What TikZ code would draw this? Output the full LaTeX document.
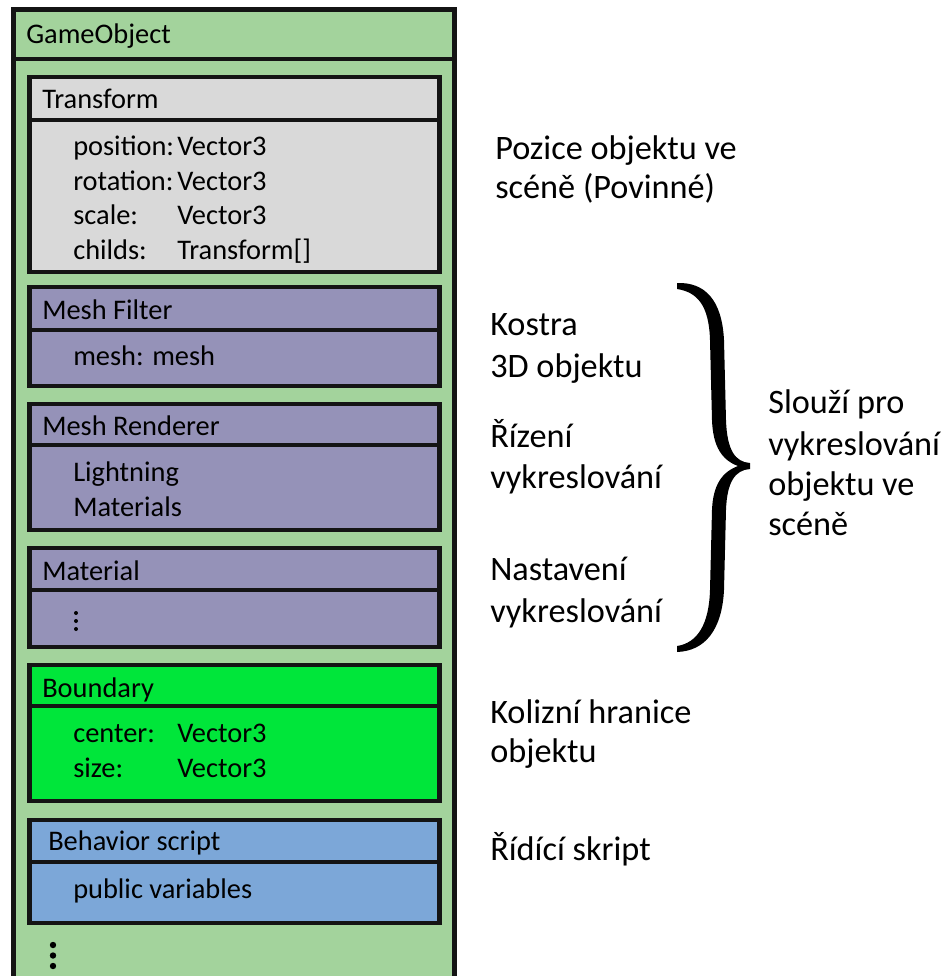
\documentclass[tikz,border=0pt]{standalone}
\usepackage{fontspec}
\setmainfont{Carlito}
\usepackage{xcolor}
\usepackage{tikz}
\usetikzlibrary{positioning}

\definecolor{objgreen}{RGB}{163,211,156}
\definecolor{trgray}{RGB}{217,217,217}
\definecolor{meshpurple}{RGB}{149,146,184}
\definecolor{boundgreen}{RGB}{0,230,58}
\definecolor{scriptblue}{RGB}{124,167,216}

\begin{document}
\begin{tikzpicture}[x=0.75pt, y=-0.75pt,
    comp/.style={draw=black!92, line width=3.3pt},
    divider/.style={draw=black!92, line width=2.6pt},
    lbl/.style={anchor=base west, inner sep=0pt, font=\fontsize{21.3}{25}\selectfont},
    note/.style={anchor=base west, inner sep=0pt, font=\fontsize{25.7}{30}\selectfont}
]
    \useasboundingbox (0,0) rectangle (949,976);

    % GameObject frame
    \draw[line width=3.8pt, draw=black!92, fill=objgreen] (13.5,9.5) rectangle (454.5,1000);
    \draw[divider, line width=3pt] (13.5,59) -- (454.5,59);
    \node[lbl] (gameobj) at (26,43) {GameObject};

    % Transform
    \draw[comp, fill=trgray] (29.5,77) rectangle (439.5,272);
    \draw[divider] (29.5,120) -- (439.5,120);
    \node[lbl] (trHead) at (42,108) {Transform};
    \node[lbl] (trPos) at (73,155) {position:};
    \node[lbl] (trRot) at (73,190) {rotation:};
    \node[lbl] (trScale) at (73,224) {scale:};
    \node[lbl] (trChilds) at (73,259) {childs:};
    \node[lbl] (trPosT) at (177,155) {Vector3};
    \node[lbl] (trRotT) at (177,190) {Vector3};
    \node[lbl] (trScaleT) at (177,224) {Vector3};
    \node[lbl] (trChildsT) at (177,259) {Transform[]};

    % Mesh Filter
    \draw[comp, fill=meshpurple] (29.5,287) rectangle (439.5,386);
    \draw[divider] (29.5,330) -- (439.5,330);
    \node[lbl] (mfHead) at (42,319) {Mesh Filter};
    \node[lbl] (mfMesh) at (73,365) {mesh: mesh};

    % Mesh Renderer
    \draw[comp, fill=meshpurple] (29.5,404) rectangle (439.5,530);
    \draw[divider] (29.5,445) -- (439.5,445);
    \node[lbl] (mrHead) at (42,435) {Mesh Renderer};
    \node[lbl] (mrLight) at (73,481) {Lightning};
    \node[lbl] (mrMat) at (73,516) {Materials};

    % Material
    \draw[comp, fill=meshpurple] (29.5,548) rectangle (439.5,647);
    \draw[divider] (29.5,590) -- (439.5,590);
    \node[lbl] (matHead) at (42,580) {Material};
    \fill (76,613) circle (2) (76,621) circle (2) (76,629) circle (2);

    % Boundary
    \draw[comp, fill=boundgreen] (29.5,665) rectangle (439.5,801);
    \draw[divider] (29.5,706) -- (439.5,706);
    \node[lbl] (bdHead) at (42,697) {Boundary};
    \node[lbl] (bdCenter) at (73,742) {center:};
    \node[lbl] (bdSize) at (73,777) {size:};
    \node[lbl] (bdCenterT) at (177,742) {Vector3};
    \node[lbl] (bdSizeT) at (177,777) {Vector3};

    % Behavior script
    \draw[comp, fill=scriptblue] (29.5,820) rectangle (439.5,923);
    \draw[divider] (29.5,862) -- (439.5,862);
    \node[lbl] (bsHead) at (48,850) {Behavior script};
    \node[lbl] (bsVars) at (73,898) {public variables};

    % more components
    \fill (53,945) circle (3.2) (53,955.5) circle (3.2) (53,966) circle (3.2);

    % Descriptions
    \node[note] (pozA) at (495,159) {Pozice objektu ve};
    \node[note] (pozB) at (495,198) {scéně (Povinné)};
    \node[note] (kosA) at (490,335) {Kostra};
    \node[note] (kosB) at (490,377) {3D objektu};
    \node[note] (rizA) at (490,447) {Řízení};
    \node[note] (rizB) at (490,488) {vykreslování};
    \node[note] (nasA) at (490,580) {Nastavení};
    \node[note] (nasB) at (490,622) {vykreslování};
    \node[note] (kolA) at (490,723) {Kolizní hranice};
    \node[note] (kolB) at (490,762) {objektu};
    \node[note] (skript) at (490,860) {Řídící skript};

    % Brace and its note
    \fill[black] (677,283) .. controls (705,282) and (722,300) .. (724,340)
        -- (726,420) .. controls (727,450) and (735,462) .. (750,463)
        -- (750,469) .. controls (735,470) and (727,482) .. (726,510)
        -- (724,590) .. controls (722,630) and (705,651) .. (677,652)
        -- (677,646) .. controls (697,643) and (709,625) .. (710,590)
        -- (712,510) .. controls (713,485) and (722,472) .. (738,466)
        .. controls (722,460) and (713,447) .. (712,420)
        -- (710,340) .. controls (709,305) and (697,292) .. (677,289) -- cycle;
    \node[note] (slA) at (768,413) {Slouží pro};
    \node[note] (slB) at (768,455) {vykreslování};
    \node[note] (slC) at (768,495) {objektu ve};
    \node[note] (slD) at (768,535) {scéně};
\end{tikzpicture}
\end{document}
